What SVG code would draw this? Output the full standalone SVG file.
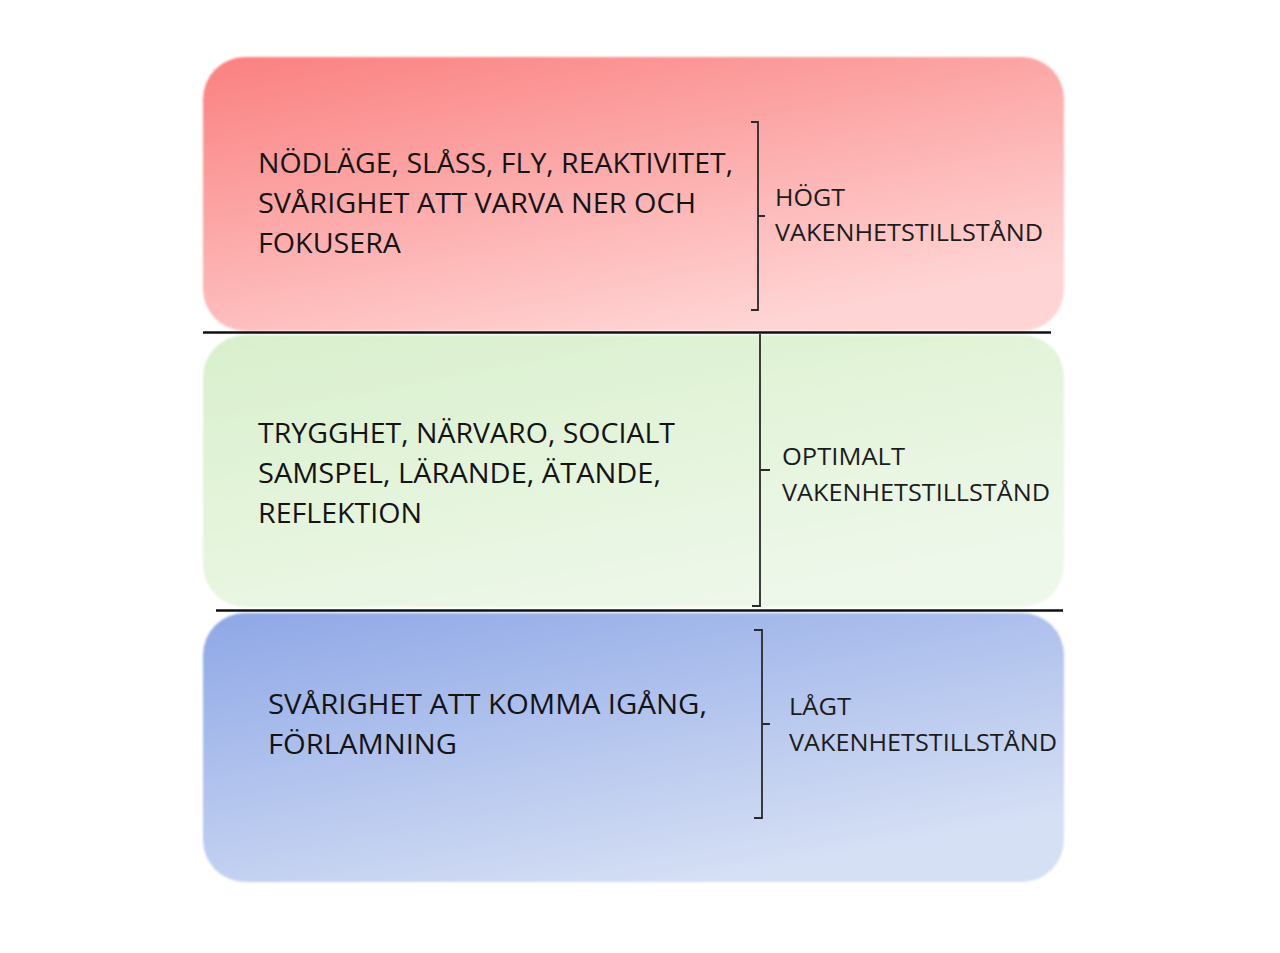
<svg xmlns="http://www.w3.org/2000/svg" width="1280" height="953" viewBox="0 0 1280 953">
  <defs>
    <linearGradient id="gRed" x1="0" y1="0" x2="0.6" y2="1">
      <stop offset="0" stop-color="#fb8080"/>
      <stop offset="1" stop-color="#ffd4d4"/>
    </linearGradient>
    <linearGradient id="gGreen" x1="0" y1="0" x2="0.6" y2="1">
      <stop offset="0" stop-color="#d9f0cc"/>
      <stop offset="1" stop-color="#eef8ea"/>
    </linearGradient>
    <linearGradient id="gBlue" x1="0" y1="0" x2="0.6" y2="1">
      <stop offset="0" stop-color="#8ea7e6"/>
      <stop offset="1" stop-color="#d6e0f5"/>
    </linearGradient>
    <filter id="soft" x="-5%" y="-5%" width="110%" height="110%">
      <feGaussianBlur stdDeviation="1.2"/>
    </filter>
    <style>
      .main { font-family: "Open Sans", "Liberation Sans", sans-serif; font-size: 27px; font-weight: 500; fill: #141414; }
      .lbl { font-family: "Open Sans", "Liberation Sans", sans-serif; font-size: 23px; fill: #1c1c1c; }
      .sep { stroke: #111; stroke-width: 2.5; fill: none; }
      .brk { stroke: #2a2a2a; stroke-width: 1.8; fill: none; }
    </style>
  </defs>
  <rect width="1280" height="953" fill="#ffffff"/>

  <g id="high">
    <rect x="203" y="57" width="861" height="274" rx="42" fill="url(#gRed)" filter="url(#soft)"/>
    <text class="main" x="258" y="173" textLength="475" lengthAdjust="spacingAndGlyphs">NÖDLÄGE, SLÅSS, FLY, REAKTIVITET,</text>
    <text class="main" x="258" y="213" textLength="438" lengthAdjust="spacingAndGlyphs">SVÅRIGHET ATT VARVA NER OCH</text>
    <text class="main" x="258" y="253" textLength="143" lengthAdjust="spacingAndGlyphs">FOKUSERA</text>
    <path class="brk" d="M751 122 H758 V310 H751 M758 216 H765"/>
    <text class="lbl" x="775" y="206" textLength="70" lengthAdjust="spacingAndGlyphs">HÖGT</text>
    <text class="lbl" x="775" y="241" textLength="268" lengthAdjust="spacingAndGlyphs">VAKENHETSTILLSTÅND</text>
  </g>

  <g id="optimal">
    <rect x="203" y="335" width="861" height="272" rx="42" fill="url(#gGreen)" filter="url(#soft)"/>
    <text class="main" x="258" y="443" textLength="417" lengthAdjust="spacingAndGlyphs">TRYGGHET, NÄRVARO, SOCIALT</text>
    <text class="main" x="258" y="483" textLength="403" lengthAdjust="spacingAndGlyphs">SAMSPEL, LÄRANDE, ÄTANDE,</text>
    <text class="main" x="258" y="523" textLength="164" lengthAdjust="spacingAndGlyphs">REFLEKTION</text>
    <path class="brk" d="M760 334 V606 H752 M760 470 H770"/>
    <text class="lbl" x="782" y="465" textLength="123" lengthAdjust="spacingAndGlyphs">OPTIMALT</text>
    <text class="lbl" x="782" y="501" textLength="268" lengthAdjust="spacingAndGlyphs">VAKENHETSTILLSTÅND</text>
  </g>

  <g id="low">
    <rect x="203" y="613" width="861" height="269" rx="42" fill="url(#gBlue)" filter="url(#soft)"/>
    <text class="main" x="268" y="714" textLength="439" lengthAdjust="spacingAndGlyphs">SVÅRIGHET ATT KOMMA IGÅNG,</text>
    <text class="main" x="268" y="754" textLength="189" lengthAdjust="spacingAndGlyphs">FÖRLAMNING</text>
    <path class="brk" d="M754 630 H762 V818 H754 M762 724 H770"/>
    <text class="lbl" x="789" y="715" textLength="62" lengthAdjust="spacingAndGlyphs">LÅGT</text>
    <text class="lbl" x="789" y="751" textLength="268" lengthAdjust="spacingAndGlyphs">VAKENHETSTILLSTÅND</text>
  </g>

  <g id="connectors">
    <line class="sep" x1="203" y1="332.5" x2="1051" y2="332.5"/>
    <line class="sep" x1="216" y1="610.5" x2="1063" y2="610.5"/>
  </g>
</svg>
